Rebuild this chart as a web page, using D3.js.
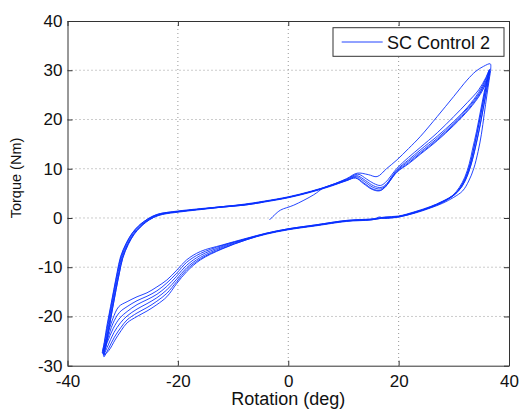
<!DOCTYPE html>
<html>
<head>
<meta charset="utf-8">
<script src="https://cdn.jsdelivr.net/npm/d3@7"></script>
<style>
  body { margin: 0; background: #fff; }
  text { font-family: "Liberation Sans", Arial, sans-serif; }
</style>
</head>
<body>
<svg width="520" height="410"></svg>
<script>
// ticks and labels
var xTicks = [-40, -20, 0, 20, 40];
var yTicks = [-30, -20, -10, 0, 10, 20, 30, 40];
var seriesName = 'SC Control 2';

// rotation (deg), torque (Nm), cycle by cycle
var startTail = [[-3.4,-0.4],[-2.5,0.6],[-1.4,1.6],[1,2.6],[4.6,4.7],[6.4,6.1]];

var cycle1 = [[8.5,7.0],[10.6,8.0],[12.5,9.1],[14.5,8.8],[16.1,8.4],[17.8,10.0],[19.7,11.8],
  [21.8,14.1],[23.9,16.5],[27,20.6],[30,24.7],[32.4,28],[34,29.8],[35.4,30.8],[36.6,31.3],
  [36.7,30.5],[36.4,28],[36,25],[35.5,21],[35,17],[34.4,13.5],[33.6,10],[32.7,7.5],[31.6,5.5],
  [30,4.2],[28,3],[25.7,2],[23,1],[20,0.2],[17.5,-0.1],[16.5,0.2],[15.5,-0.3],[10.6,-0.5],
  [5,-1.4],[0,-2.2],[-4,-3.1],[-7.5,-4.1],[-12,-5.5],[-15.9,-6.8],[-18.4,-8.5],[-20.2,-10.6],
  [-22,-12.6],[-23.8,-14],[-25.6,-15.2],[-27.4,-16],[-29.2,-17],[-30.7,-18],[-31.8,-20.5],
  [-32.8,-24],[-33.6,-27],
  [-33.3,-25],[-32.8,-21.5],[-32.2,-18],[-31.6,-14.5],[-31,-11],[-30.4,-7.9],[-29.4,-5.2],
  [-28.3,-3.1],[-27.2,-1.7],[-26.2,-0.75],[-24.8,0.2],[-23.2,0.9],[-20.2,1.3],[-15.9,1.8]];

var cycle2 = [[-12,2.2],[-8,2.7],[-4.5,3.3],[0,4.2],[4,5.3],[7.6,6.6],[10.6,7.9],[12.6,8.9],
  [14.2,7.9],[15.5,7.0],[16.7,6.6],[17.6,7.2],[19.7,10.1],[21.8,12.3],[23.9,14.3],[27,17.3],
  [30,20.6],[32.5,23.5],[34.5,26],[35.8,28.5],[36.5,30.2],
  [36.3,29],[35.8,26.5],[35.2,23],[34.5,19],[33.9,15.5],[33.2,12],[32.4,9],[31.5,6.8],
  [30.2,4.8],[28,3.2],[25.7,2.1],[23,1.2],[20,0.3],[17.5,0],[15,-0.3],[10.6,-0.6],[5,-1.5],
  [0,-2.3],[-4,-3.2],[-7.5,-4.2],[-12,-5.6],[-15.9,-7.2],[-18.4,-9],[-20.2,-11.2],[-22,-13.2],
  [-23.8,-14.8],[-25.6,-15.9],[-27.4,-16.8],[-29.2,-18],[-30.6,-19.2],[-31.8,-21.5],
  [-32.8,-24.8],[-33.7,-27.4],
  [-33.3,-25.3],[-32.7,-21.5],[-32.1,-17.8],[-31.5,-14.2],[-30.9,-10.8],[-30.3,-7.8],
  [-29.3,-5.1],[-28.2,-3],[-27.1,-1.6],[-26.1,-0.7],[-24.7,0.3],[-23.1,0.9],[-20.1,1.4],[-15.9,1.9]];

var cycle3 = [[-12,2.3],[-8,2.8],[-4.5,3.4],[0,4.3],[4,5.4],[7.6,6.6],[10.6,7.8],[12.4,8.6],
  [14,7.6],[15.5,6.5],[16.8,6.2],[17.7,6.8],[19.7,9.8],[21.8,11.8],[23.9,13.8],[27,16.6],
  [30,19.6],[32.5,22.5],[34.5,25.5],[35.7,28],[36.4,30],
  [36.1,28.5],[35.5,25.5],[34.8,21.5],[34.1,17.5],[33.4,14],[32.8,11],[32,8.3],[31,6.2],
  [29.8,4.6],[28,3.3],[25.7,2.2],[23,1.1],[20,0.2],[17.5,0.1],[15,-0.2],[10.6,-0.5],[5,-1.4],
  [0,-2.2],[-4,-3.1],[-7.5,-4.2],[-12,-5.8],[-15.9,-7.6],[-18.4,-9.6],[-20.2,-11.8],[-22,-13.9],
  [-23.8,-15.5],[-25.6,-16.6],[-27.4,-17.6],[-29.2,-19],[-30.5,-20.3],[-31.7,-22.4],
  [-32.8,-25.3],[-33.6,-27.6],
  [-33.2,-25.4],[-32.6,-21.6],[-32,-17.9],[-31.4,-14.3],[-30.8,-10.9],[-30.2,-7.9],
  [-29.2,-5.2],[-28.1,-3.1],[-27,-1.7],[-26,-0.8],[-24.6,0.2],[-23,0.8],[-20,1.3],[-15.9,1.8]];

var cycle4 = [[-12,2.3],[-8,2.7],[-4.5,3.3],[0,4.2],[4,5.3],[7.6,6.5],[10.6,7.7],[12.3,8.4],
  [13.8,7.4],[15.4,6.2],[16.7,5.9],[17.6,6.5],[19.7,9.6],[21.8,11.5],[23.9,13.4],[27,16.2],
  [30,19.3],[32.6,22.4],[34.6,25.3],[35.8,27.9],[36.5,29.9],
  [36.2,28.4],[35.7,25.8],[35.1,22.2],[34.4,18.2],[33.7,14.6],[33.1,11.4],[32.3,8.6],
  [31.3,6.4],[30,4.7],[28,3.4],[25.7,2.3],[23,1.3],[20,0.4],[17.5,0.2],[15,-0.3],[10.6,-0.6],
  [5,-1.5],[0,-2.3],[-4,-3.2],[-7.5,-4.3],[-12,-6],[-15.9,-8],[-18.4,-10.1],[-20.2,-12.4],
  [-22,-14.6],[-23.8,-16.2],[-25.6,-17.4],[-27.4,-18.5],[-29.2,-19.9],[-30.4,-21.3],
  [-31.6,-23.3],[-32.7,-26],[-33.5,-27.9],
  [-33.1,-25.6],[-32.5,-21.7],[-31.9,-18],[-31.3,-14.4],[-30.7,-11],[-30.1,-8],[-29.1,-5.3],
  [-28,-3.2],[-26.9,-1.8],[-25.9,-0.8],[-24.5,0.2],[-22.9,0.8],[-19.9,1.3],[-15.9,1.8]];

var cycle5 = [[-12,2.2],[-8,2.6],[-4.5,3.2],[0,4.1],[4,5.2],[7.6,6.4],[10.6,7.6],[12.2,8.2],
  [13.7,7.1],[15.3,5.9],[16.6,5.6],[17.5,6.2],[19.7,9.4],[21.8,11.2],[23.9,13.1],[27,15.9],
  [30,19],[32.7,22.2],[34.7,25.2],[35.9,27.8],[36.5,29.8],
  [36.3,28.3],[35.9,26],[35.4,22.8],[34.8,19],[34.1,15.2],[33.4,11.9],[32.6,9],[31.6,6.6],
  [30.2,4.8],[28,3.4],[25.7,2.2],[23,1.2],[20,0.3],[17.5,0.1],[15,-0.4],[10.6,-0.7],[5,-1.6],
  [0,-2.4],[-4,-3.3],[-7.5,-4.4],[-12,-6.2],[-15.9,-8.3],[-18.4,-10.5],[-20.2,-12.9],
  [-22,-15.3],[-23.8,-16.9],[-25.6,-18.2],[-27.4,-19.3],[-29.2,-20.7],[-30.3,-22.2],
  [-31.5,-24.2],[-32.6,-26.6],[-33.4,-28.2],
  [-33,-25.8],[-32.4,-21.8],[-31.8,-18.1],[-31.2,-14.5],[-30.6,-11.1],[-30,-8.1],[-29,-5.3],
  [-27.9,-3.2],[-26.8,-1.8],[-25.8,-0.8],[-24.4,0.1],[-22.8,0.8],[-19.8,1.3],[-15.9,1.8]];

var cycle6 = [[-12,2.3],[-8,2.7],[-4.5,3.3],[0,4.2],[4,5.3],[7.6,6.5],[10.6,7.6],[12.2,8.1],
  [13.6,7.0],[15.2,5.8],[16.5,5.5],[17.4,6.1],[19.7,9.3],[21.8,11.0],[23.9,12.9],[27,15.7],
  [30,18.8],[32.8,22.1],[34.8,25.1],[36,27.8],[36.5,29.5],
  [36.3,28],[35.9,25.5],[35.3,22],[34.6,18],[33.9,14.4],[33.2,11.2],[32.4,8.5],[31.4,6.3],
  [30,4.6],[28,3.2],[25.7,2.1],[23,1.1],[20,0.3],[17.5,0],[15,-0.3],[10.6,-0.6],[5,-1.5],
  [0,-2.3],[-4,-3.2],[-7.5,-4.4],[-12,-6.3],[-15.9,-8.5],[-18.4,-10.9],[-20.2,-13.3],
  [-22,-16],[-23.8,-17.6],[-25.6,-18.9],[-27.4,-20],[-29.2,-21.3],[-30.3,-22.9],
  [-31.4,-24.8],[-32.5,-26.9],[-33.4,-27.8],
  [-33,-25.9],[-32.4,-21.9],[-31.8,-18.2],[-31.2,-14.6],[-30.6,-11.2],[-30,-8.2],[-29,-5.4],
  [-27.9,-3.3],[-26.8,-1.9],[-25.8,-0.9],[-24.4,0.1],[-22.8,0.7],[-19.8,1.2],[-15.9,1.7],
  [-12,2.2],[-8,2.6],[-4.5,3.2]];

var gridX = [-20, 0, 20];
var gridY = [-20, -10, 0, 10, 20, 30];

var svg = d3.select('svg');

var x = d3.scaleLinear().domain([-40, 40]).range([67.5, 509]);
var y = d3.scaleLinear().domain([-30, 40]).range([365.7, 21]);

// dotted grid
svg.append('g')
  .selectAll('line')
  .data(gridX)
  .enter().append('line')
  .attr('x1', d => x(d)).attr('x2', d => x(d))
  .attr('y1', y(40)).attr('y2', y(-30))
  .attr('stroke', '#999').attr('stroke-dasharray', '1,3');

svg.append('g')
  .selectAll('line')
  .data(gridY)
  .enter().append('line')
  .attr('x1', x(-40)).attr('x2', x(40))
  .attr('y1', d => y(d)).attr('y2', d => y(d))
  .attr('stroke', '#999').attr('stroke-dasharray', '1,3');

// the data
var allPoints = startTail.concat(cycle1, cycle2, cycle3, cycle4, cycle5, cycle6);

var line = d3.line()
  .x(d => x(d[0]))
  .y(d => y(d[1]))
  .curve(d3.curveCatmullRom.alpha(0.5));

svg.append('path')
  .datum(allPoints)
  .attr('d', line)
  .attr('fill', 'none')
  .attr('stroke', '#0a30ff')
  .attr('stroke-width', 0.9);

// axes, ticks inside on all four sides; plain hyphen for negatives
var plain = d => String(d);

function styleAxis(g) {
  g.selectAll('path, line').attr('stroke', '#333');
  g.selectAll('text')
    .attr('fill', '#111')
    .style('font-size', '17px')
    .style('font-family', '"Liberation Sans", Arial, sans-serif');
}

svg.append('g')
  .attr('transform', 'translate(0,' + y(-30) + ')')
  .call(d3.axisBottom(x).tickValues(xTicks).tickFormat(plain)
    .tickSize(-5).tickSizeOuter(0).tickPadding(9))
  .call(styleAxis);

svg.append('g')
  .attr('transform', 'translate(0,' + y(40) + ')')
  .call(d3.axisTop(x).tickValues(xTicks).tickSize(-5).tickSizeOuter(0).tickFormat(''))
  .call(styleAxis);

svg.append('g')
  .attr('transform', 'translate(' + x(-40) + ',0)')
  .call(d3.axisLeft(y).tickValues(yTicks).tickFormat(plain)
    .tickSize(-5).tickSizeOuter(0).tickPadding(5))
  .call(styleAxis);

svg.append('g')
  .attr('transform', 'translate(' + x(40) + ',0)')
  .call(d3.axisRight(y).tickValues(yTicks).tickSize(-5).tickSizeOuter(0).tickFormat(''))
  .call(styleAxis);

// axis titles
svg.append('text')
  .attr('x', x(0))
  .attr('y', 405)
  .attr('text-anchor', 'middle')
  .style('font-size', '18px')
  .attr('fill', '#111')
  .text('Rotation (deg)');

svg.append('text')
  .attr('transform', 'translate(21,178) rotate(-90)')
  .attr('text-anchor', 'middle')
  .style('font-size', '14.5px')
  .attr('fill', '#111')
  .text('Torque (Nm)');

// legend
var legend = svg.append('g');
legend.append('rect')
  .attr('x', 333).attr('y', 27.7)
  .attr('width', 171).attr('height', 28.6)
  .attr('fill', '#fff').attr('stroke', '#333');
legend.append('line')
  .attr('x1', 341.7).attr('x2', 382.7)
  .attr('y1', 42).attr('y2', 42)
  .attr('stroke', '#0a30ff').attr('stroke-width', 0.9);
legend.append('text')
  .attr('x', 387)
  .attr('y', 48.5)
  .style('font-size', '18px')
  .attr('fill', '#111')
  .text(seriesName);
</script>
</body>
</html>
